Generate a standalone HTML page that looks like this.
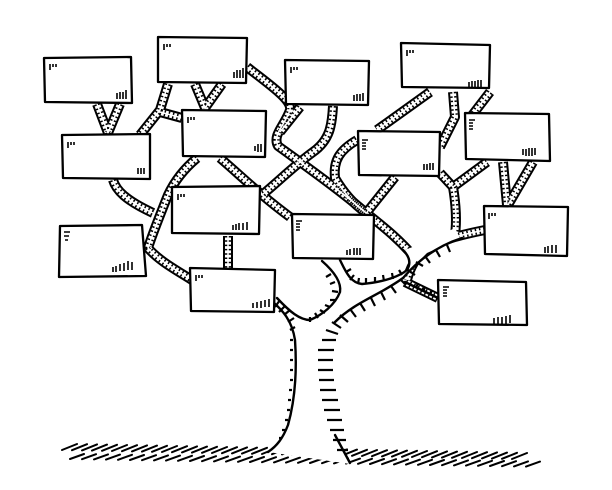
<!DOCTYPE html>
<html><head><meta charset="utf-8"><style>
html,body{margin:0;padding:0;background:#fff;width:612px;height:490px;overflow:hidden}
</style></head><body>
<svg width="612" height="490" viewBox="0 0 612 490" xmlns="http://www.w3.org/2000/svg">
<defs>
<g id="paths" fill="none">
<path d="M97 104 L108 133 M120 104 L108 133"/>
<path d="M195 84 L205 108 M222 84 L205 108"/>
<path d="M168 84 L160 110 L140 135"/>
<path d="M160 112 L182 118"/>
<path d="M247 67 C270 85 292 100 290 110 C285 125 272 135 278 146 C300 162 340 190 365 212 C385 228 400 240 415 258"/>
<path d="M333 106 C332 125 330 140 313 152 C295 165 280 180 262 195"/>
<path d="M300 107 L280 132"/>
<path d="M220 158 C240 175 260 195 290 217"/>
<path d="M197 158 C185 168 175 180 168 195 C160 215 152 235 148 248 C160 262 180 272 195 282"/>
<path d="M113 180 C116 190 125 200 153 213"/>
<path d="M228 236 L228 268"/>
<path d="M430 92 L377 130"/>
<path d="M357 140 C340 150 333 160 335 178 C345 195 355 205 365 212"/>
<path d="M395 177 L367 212"/>
<path d="M453 92 L455 117 L440 147"/>
<path d="M490 92 L470 118"/>
<path d="M440 173 L453 187 L487 162"/>
<path d="M453 187 C456 205 457 220 455 235"/>
<path d="M485 230 C460 235 440 240 425 250 C415 258 410 268 407 280"/>
<path d="M503 162 L507 205 M533 162 L508 205"/>
<path d="M438 298 L405 282"/>
</g>
</defs>
<!-- ground hatch -->
<g stroke="#000" stroke-width="2" fill="none" stroke-linecap="round">
<path d="M62 450l15-6m-5 6.2l15-6m-5 6.2l15-6m-5 6.2l15-6m-5 6.2l15-6m-5 6.2l15-6m-5 6.2l15-6m-5 6.2l15-6m-5 6.2l15-6m-5 6.2l15-6m-5 6.2l15-6m-5 6.2l15-6m-5 6.2l15-6m-5 6.2l15-6m-5 6.2l15-6m-5 6.2l15-6m-5 6.2l15-6m-5 6.2l15-6m-5 6.2l15-6m-5 6.2l15-6m-5 6.2l15-6m-5 6.2l15-6m-5 6.2l15-6m-5 6.2l15-6m-5 6.2l15-6m-5 6.2l15-6m-5 6.2l15-6m-5 6.2l15-6m-5 6.2l15-6m-5 6.2l15-6m-5 6.2l15-6m-5 6.2l15-6m-5 6.2l15-6m-5 6.2l15-6m-5 6.2l15-6m-5 6.2l15-6m-5 6.2l15-6m-5 6.2l15-6m-5 6.2l15-6m-5 6.2l15-6m-5 6.2l15-6m-5 6.2l15-6m-5 6.2l15-6m-5 6.2l15-6m-5 6.2l15-6m-5 6.2l15-6"/>
<path d="M70 459l14-5m-2 5.2l14-5m-2 5.2l14-5m-2 5.2l14-5m-2 5.2l14-5m-2 5.2l14-5m-2 5.2l14-5m-2 5.2l14-5m-2 5.2l14-5m-2 5.2l14-5m-2 5.2l14-5m-2 5.2l14-5m-2 5.2l14-5m-2 5.2l14-5m-2 5.2l14-5m-2 5.2l14-5m-2 5.2l14-5m-2 5.2l14-5m-2 5.2l14-5m-2 5.2l14-5m-2 5.2l14-5m-2 5.2l14-5m-2 5.2l14-5m-2 5.2l14-5m-2 5.2l14-5m-2 5.2l14-5m-2 5.2l14-5m-2 5.2l14-5m-2 5.2l14-5m-2 5.2l14-5m-2 5.2l14-5m-2 5.2l14-5m-2 5.2l14-5m-2 5.2l14-5m-2 5.2l14-5m-2 5.2l14-5m-2 5.2l14-5m-2 5.2l14-5m-2 5.2l14-5"/>
</g>
<!-- branches -->
<use href="#paths" stroke="#000" stroke-width="10" stroke-linejoin="round"/>
<use href="#paths" stroke="#fff" stroke-width="6" stroke-linejoin="round"/>
<use href="#paths" stroke="#000" stroke-width="6" stroke-dasharray="1.5 2.8" stroke-linejoin="round"/>
<use href="#paths" stroke="#fff" stroke-width="1.5" stroke-linejoin="round"/>
<!-- trunk white area -->
<path d="M268 300 L290 323 L296 345 L294 390 L288 425 L268 452 L350 464 L337 435 L326 400 L317 360 L322 333 L350 307 L400 280 L427 253 L460 238 L455 228 L430 240 L405 250 L410 262 L405 273 L380 282 L353 283 L340 260 L322 258 L338 285 L330 307 L305 318 L280 298 Z" fill="#fff"/>
<g fill="none" stroke="#000" stroke-width="2.4" stroke-linejoin="round" stroke-linecap="round">
<path d="M273 302 C282 310 292 320 295 340 C297 370 295 400 288 425 C283 438 277 446 268 452"/>
<path d="M462 238 C440 245 420 258 403 278 C380 295 355 302 335 322"/>
<path d="M277 298 C290 312 300 320 310 320 C322 315 335 305 340 292 C342 280 330 268 322 261"/>
<path d="M340 260 C345 270 350 283 362 284 C385 282 400 276 407 270 C412 262 408 255 403 250"/>
<path d="M405 282 L438 298"/>
<path d="M335 435 L350 463"/>
</g>
<g stroke="#000" stroke-width="2.2">
<path d="M284 315l6-5M288 322l6-4M290 330l5-3M290 340h3M290 350h3M290 360h3M290 370h3M290 380h3M289 390h3M288 400h3M287 410h3M285 420h3M282 430h3M279 438h3"/>
<path d="M322 340h14M318 350h16M318 360h15M318 370h15M319 380h15M320 390h16M322 400h16M324 410h16M327 420h15M330 430h14M333 440h13M337 450h11M326 330l12 4M332 322l9 6M340 315l8 7M350 309l6 8M360 303l5 8M371 298l4 8M381 292l4 8M391 286l5 7M400 279l6 6M408 270l7 5M416 262l7 4M425 256l5 7M436 250l4 7M447 245l3 7"/>
<path d="M280 300l-5 7M285 306l-6 6M310 322v-5M318 318l-3-5M325 313l-5-3M330 307l-5-2M336 300l-6 0M338 292l-6-1M335 282l-5 2M331 274l-5 3"/>
<path d="M346 272l5-3M350 280l4-5M358 284l1-6M366 284v-6M375 283v-6M384 281l-1-6M393 279l-1-6M402 275l-3-5M416 288l2-5M423 292l2-5M430 295l2-5"/>
</g>
<!-- boxes -->
<g fill="#fff" stroke="#000" stroke-width="2.3" stroke-linejoin="round">
<path d="M44 58 L131 57 L132 103 L45 102 Z"/>
<path d="M158 37 L247 38 L246 83 L158 82 Z"/>
<path d="M285 60 L369 61 L368 105 L286 104 Z"/>
<path d="M401 43 L490 45 L489 88 L402 87 Z"/>
<path d="M62 135 L150 134 L150 179 L63 178 Z"/>
<path d="M182 110 L266 111 L265 157 L183 156 Z"/>
<path d="M358 131 L440 132 L439 176 L359 175 Z"/>
<path d="M465 113 L549 114 L550 161 L466 159 Z"/>
<path d="M172 187 L260 186 L259 234 L172 233 Z"/>
<path d="M292 214 L374 215 L373 259 L293 258 Z"/>
<path d="M60 226 L142 225 L146 276 L59 277 Z"/>
<path d="M484 206 L568 207 L567 256 L485 254 Z"/>
<path d="M190 268 L275 270 L274 312 L191 311 Z"/>
<path d="M438 280 L526 282 L527 325 L439 324 Z"/>
</g>
<!-- tick marks in boxes -->
<g stroke="#000" stroke-width="1.6">
<path d="M50 64v6M53 64v3M56 64v3M117 93v6M120 92v7M123 92v7M126 90v9"/>
<path d="M164 44v6M167 44v3M170 44v3M234 72v6M237 70v8M240 70v8M243 68v10"/>
<path d="M291 67v6M294 67v3M297 67v3M354 95v6M357 94v7M360 94v7M363 93v8"/>
<path d="M407 50v6M410 50v3M413 50v3M469 82v5M472 81v6M475 81v6M478 80v7M481 80v7"/>
<path d="M68 142v6M71 142v3M74 142v3M138 168v6M141 168v6M144 168v6"/>
<path d="M188 117v6M191 117v3M194 117v3M258 144v8M255 146v5M261 144v8"/>
<path d="M362 140h6M362 143h4M362 146h4M362 149h4M424 164v6M427 164v6M430 163v7M433 163v7"/>
<path d="M469 120h6M469 123h4M469 126h4M469 129h4M523 155v-6M526 156v-7M529 156v-8M532 156v-8M535 155v-7"/>
<path d="M178 194v6M181 194v3M184 194v3M233 230v-5M236 230v-6M239 230v-7M243 230v-7M247 230v-8"/>
<path d="M296 221h6M296 224h4M296 227h4M296 230h4M347 255v-5M350 255v-6M354 255v-7M357 255v-7M360 255v-7"/>
<path d="M64 232h6M64 236h5M65 240h3M113 272v-5M116 272v-6M120 271v-7M124 271v-8M128 270v-9M132 270v-8"/>
<path d="M489 213v6M492 213v3M495 213v3M545 253v-6M548 253v-7M552 253v-8M556 253v-8"/>
<path d="M196 275v6M199 275v3M202 275v3M253 308v-5M257 308v-6M261 308v-7M265 307v-7M269 307v-8"/>
<path d="M443 287h6M443 290h4M443 293h4M443 296h4M494 324v-6M498 324v-7M502 324v-7M506 324v-8M510 323v-8"/>
</g>
</svg>
</body></html>
